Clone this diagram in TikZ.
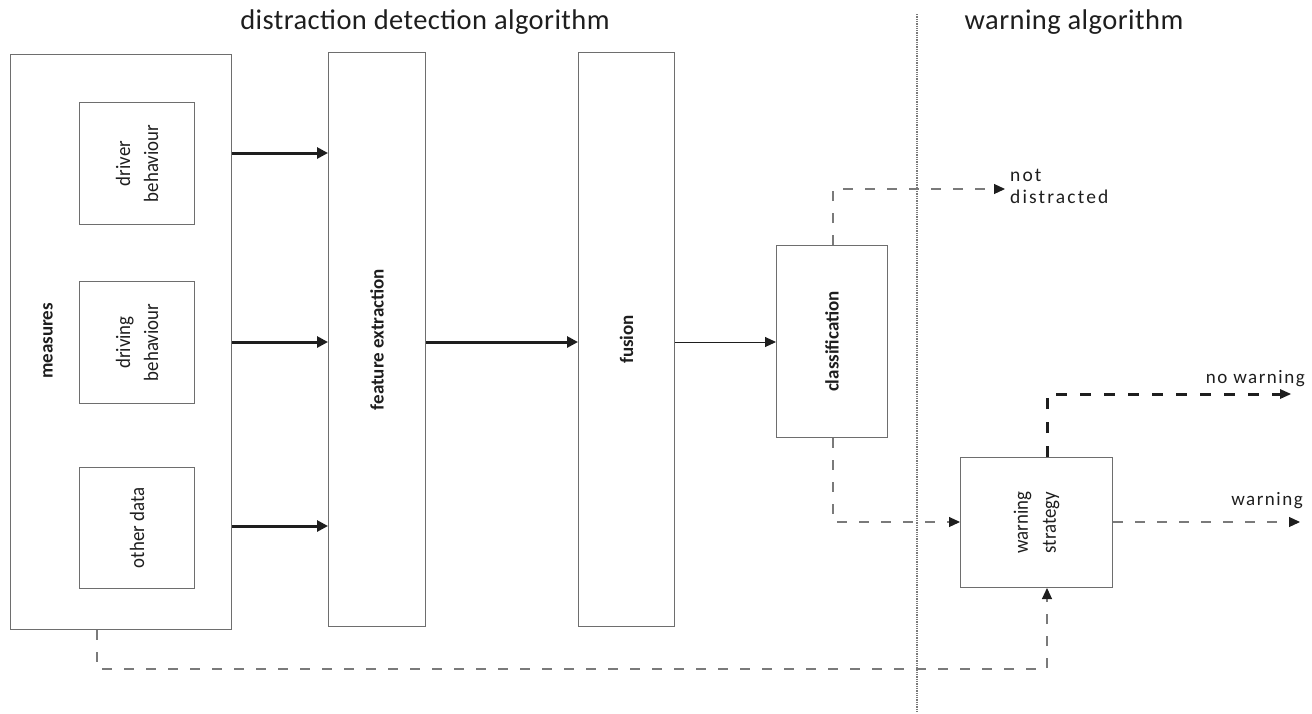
\documentclass[tikz,border=0pt]{standalone}
\usepackage{fontspec}
\setmainfont{Carlito}
\newfontfamily\lblfont[LetterSpace=8]{Carlito}
\newfontfamily\ndfont[LetterSpace=11]{Carlito}
\newfontfamily\rotfont[FakeStretch=0.92]{Carlito}
\newfontfamily\titlefont[LetterSpace=1.5]{Carlito}
\usetikzlibrary{arrows.meta}
\definecolor{boxgray}{HTML}{6E6E6E}
\definecolor{linegray}{HTML}{7A7A7A}
\definecolor{ink}{HTML}{1E1E1E}
\begin{document}
\begin{tikzpicture}[x=1pt,y=-1pt,
  box/.style={draw=boxgray,line width=1pt,inner sep=0pt,anchor=north west},
  rottext/.style={rotate=90,align=center,inner sep=0pt,text=ink,font=\rotfont\fontsize{20.5}{28}\selectfont},
  boldtext/.style={rotate=90,inner sep=0pt,text=ink,font=\fontsize{19}{23}\selectfont\bfseries},
  titletext/.style={anchor=base,inner sep=0pt,text=ink,font=\titlefont\fontsize{28.5}{34}\selectfont},
  lbl/.style={anchor=base west,inner sep=0pt,text=ink,font=\lblfont\fontsize{19}{22}\selectfont},
  ndlbl/.style={anchor=base west,inner sep=0pt,text=ink,font=\ndfont\fontsize{19.5}{22}\selectfont},
  thickarrow/.style={draw=ink,line width=3pt,-{Triangle[length=11pt,width=11pt]}},
  thinarrow/.style={draw=ink,line width=1pt,-{Triangle[length=11pt,width=10pt]}},
  dasharrow/.style={draw=linegray,line width=1.1pt,dash pattern=on 10pt off 12pt,-{Triangle[length=11pt,width=10pt,color=ink]}},
  thickdash/.style={draw=ink,line width=3pt,dash pattern=on 11pt off 13pt,-{Triangle[length=11pt,width=10pt,line width=0pt]}}
]
\useasboundingbox (0,0) rectangle (1312,713);

% titles
\node[titletext] (t1) at (425,29) {distraction detection algorithm};
\node[titletext] (t2) at (1074,29) {warning algorithm};

% separator
\coordinate (sTop) at (917,14);
\coordinate (sBot) at (917,713);
\draw[draw=linegray,line width=1.3pt,densely dotted] (sTop) -- (sBot);

% boxes
\node[box,minimum width=221pt,minimum height=575pt] (m) at (10,54) {};
\node[box,minimum width=115pt,minimum height=122pt] (db) at (79,102) {};
\node[box,minimum width=115pt,minimum height=122pt] (dv) at (79,281) {};
\node[box,minimum width=115pt,minimum height=121pt] (od) at (79,467) {};
\node[box,minimum width=97pt,minimum height=574pt] (fe) at (328,52) {};
\node[box,minimum width=96pt,minimum height=574pt] (fu) at (578,52) {};
\node[box,minimum width=111pt,minimum height=192pt] (cl) at (776,245) {};
\node[box,minimum width=152pt,minimum height=130pt] (ws) at (960,457) {};

% box texts
\node[rottext] (dbt) at (db.center) {driver\\behaviour};
\node[rottext] (dvt) at (dv.center) {driving\\behaviour};
\node[rottext] (odt) at (od.center) {other data};
\node[rottext] (wst) at (ws.center) {warning\\strategy};
\node[boldtext] (mt) at (48,341) {measures};
\node[boldtext] (fet) at (fe.center) {feature extraction};
\node[boldtext] (fut) at (fu.center) {fusion};
\node[boldtext] (clt) at (cl.center) {classification};

% row coordinates
\coordinate (r1) at (0,153);
\coordinate (r2) at (0,342);
\coordinate (r3) at (0,526);

% solid arrows
\draw[thickarrow] (m.east |- r1) -- (fe.west |- r1);
\draw[thickarrow] (m.east |- r2) -- (fe.west |- r2);
\draw[thickarrow] (m.east |- r3) -- (fe.west |- r3);
\draw[thickarrow] (fe.east |- r2) -- (fu.west |- r2);
\draw[thinarrow] (fu.east |- r2) -- (cl.west |- r2);

% not distracted
\coordinate (nd) at (1005,189);
\coordinate (clx) at (833,0);
\draw[dasharrow] (cl.north -| clx) |- (nd);
\node[ndlbl] (ndl1) at (1010,181) {not};
\node[ndlbl] (ndl2) at (1010,203) {distracted};

% classification -> warning strategy
\coordinate (r4) at (0,522);
\draw[dasharrow] (cl.south -| clx) |- (ws.west |- r4);

% no warning
\coordinate (wsx) at (1047,0);
\coordinate (nw) at (1291,394);
\draw[thickdash] (ws.north -| wsx) |- (nw);
\node[lbl,anchor=base east] (nwl) at (1305,383) {no warning};

% warning
\coordinate (w) at (1300,522);
\draw[dasharrow] (ws.east |- r4) -- (w);
\node[lbl,anchor=base east] (wl) at (1303,505) {warning};

% feedback
\coordinate (mx) at (97,0);
\coordinate (fb) at (0,669);
\draw[dasharrow] (m.south -| mx) |- (wsx |- fb) -- (ws.south -| wsx);
\end{tikzpicture}
\end{document}
